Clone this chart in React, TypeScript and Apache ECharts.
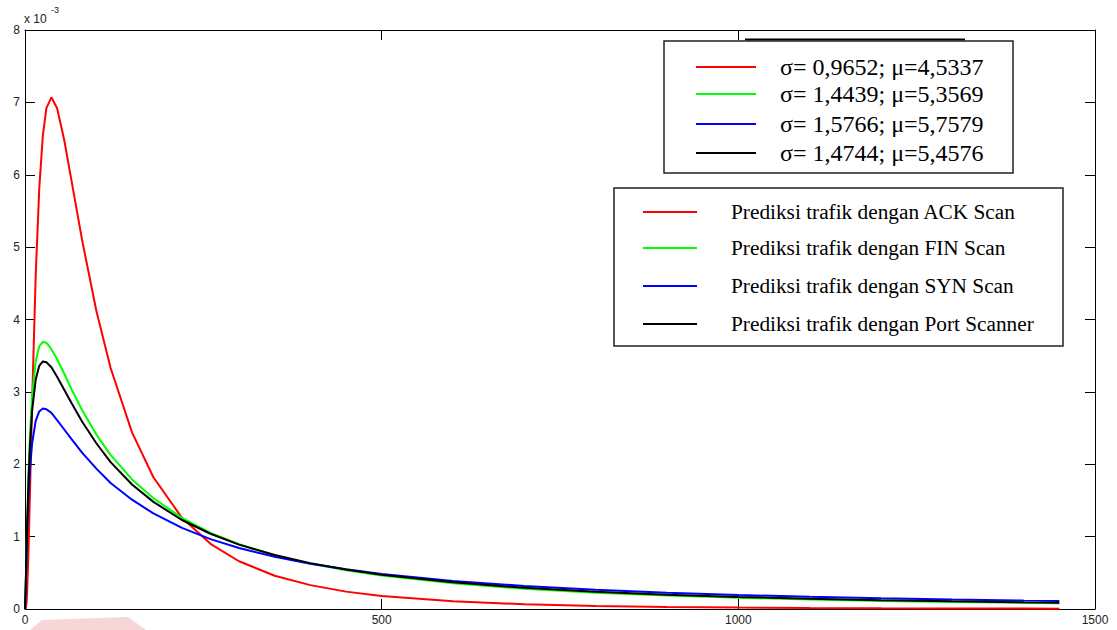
import React, { useEffect, useRef } from "react";
import * as echarts from "echarts";

// x positions (samples)
const xValues = [0, 1, 2, 3, 5, 7, 10, 15, 20, 25, 30, 37, 45, 55, 65, 80, 100, 120, 150, 180, 220, 260, 300, 350, 400, 450, 500, 600, 700, 800, 900, 1000, 1100, 1200, 1300, 1400, 1450];

// values in units of 10^-3
const ackScan = [0, 0.007, 0.075, 0.245, 0.84, 1.62, 2.86, 4.61, 5.81, 6.54, 6.92, 7.07, 6.92, 6.48, 5.93, 5.1, 4.12, 3.33, 2.44, 1.82, 1.26, 0.9, 0.66, 0.46, 0.33, 0.24, 0.18, 0.107, 0.066, 0.043, 0.029, 0.02, 0.014, 0.01, 0.008, 0.006, 0.005];
const finScan = [0, 0.28, 0.75, 1.19, 1.9, 2.42, 2.95, 3.42, 3.63, 3.69, 3.68, 3.59, 3.45, 3.25, 3.04, 2.75, 2.41, 2.13, 1.79, 1.53, 1.26, 1.05, 0.895, 0.743, 0.627, 0.536, 0.463, 0.355, 0.28, 0.226, 0.186, 0.155, 0.131, 0.112, 0.097, 0.084, 0.079];
const synScan = [0, 0.32, 0.73, 1.07, 1.59, 1.94, 2.29, 2.6, 2.73, 2.77, 2.76, 2.71, 2.61, 2.48, 2.35, 2.16, 1.94, 1.74, 1.51, 1.32, 1.12, 0.966, 0.843, 0.722, 0.626, 0.549, 0.485, 0.388, 0.319, 0.266, 0.226, 0.194, 0.168, 0.148, 0.13, 0.116, 0.11];
const portScanner = [0, 0.29, 0.73, 1.14, 1.8, 2.27, 2.74, 3.17, 3.36, 3.42, 3.41, 3.34, 3.21, 3.03, 2.85, 2.59, 2.29, 2.03, 1.72, 1.48, 1.23, 1.04, 0.889, 0.745, 0.634, 0.545, 0.474, 0.368, 0.294, 0.239, 0.198, 0.167, 0.142, 0.122, 0.106, 0.093, 0.087];

const seriesNames = [
  "Prediksi trafik dengan ACK Scan",
  "Prediksi trafik dengan FIN Scan",
  "Prediksi trafik dengan SYN Scan",
  "Prediksi trafik dengan Port Scanner",
];
const paramLabels = [
  "σ= 0,9652; μ=4,5337",
  "σ= 1,4439; μ=5,3569",
  "σ= 1,5766; μ=5,7579",
  "σ= 1,4744; μ=5,4576",
];
const colors = ["#ff0000", "#00ff00", "#0000ff", "#000000"];
const seriesValues = [ackScan, finScan, synScan, portScanner];

const xMin = 0, xMax = 1500, xInterval = 500;
const yMin = 0, yMax = 8, yInterval = 1;

export default function App() {
  const ref = useRef<HTMLDivElement>(null);
  useEffect(() => {
    if (!ref.current) return;
    const chart = echarts.init(ref.current, undefined, { renderer: "svg" });
    const sansFont = "'Liberation Sans', Arial, sans-serif";
    const serifFont = "'Liberation Serif', 'Times New Roman', serif";
    const axisCommon = {
      axisLine: { show: true, onZero: false, lineStyle: { color: "#000", width: 1 } },
      axisTick: { show: true, inside: true, length: 10, lineStyle: { color: "#000", width: 1 } },
      splitLine: { show: false },
    };
    const labelStyle = { fontSize: 12, margin: 5, color: "#222", fontFamily: sansFont, formatter: (v: number) => String(v) };
    const graphics: any[] = [];
    graphics.push({ type: "text", left: 24, top: 13, style: { text: "x 10", fontSize: 12, fontFamily: sansFont, fill: "#222" } });
    graphics.push({ type: "text", left: 51, top: 5, style: { text: "-3", fontSize: 9, fontFamily: sansFont, fill: "#222" } });
    // watermark fragment
    graphics.push({ type: "polygon", shape: { points: [[30, 630], [42, 620], [128, 617], [146, 630]] }, style: { fill: "#f6d6d6" }, z: -1 });
    // legend box 1
    graphics.push({ type: "line", shape: { x1: 745, y1: 39.5, x2: 965, y2: 39.5 }, style: { stroke: "#000", lineWidth: 2 } });
    graphics.push({ type: "rect", shape: { x: 664, y: 41, width: 349, height: 132 }, style: { fill: "#fff", stroke: "#222", lineWidth: 1.5 } });
    const rows1 = [67, 94, 124, 153];
    rows1.forEach((y, i) => {
      graphics.push({ type: "line", shape: { x1: 696, y1: y, x2: 756, y2: y }, style: { stroke: colors[i], lineWidth: 2 } });
      graphics.push({ type: "text", x: 780, y, style: { text: paramLabels[i], fontSize: 24, fontFamily: serifFont, fill: "#000", verticalAlign: "middle", align: "left" } });
    });
    // legend box 2
    graphics.push({ type: "rect", shape: { x: 614, y: 188, width: 449, height: 158 }, style: { fill: "#fff", stroke: "#222", lineWidth: 1.5 } });
    const rows2 = [212, 248, 286, 324];
    rows2.forEach((y, i) => {
      graphics.push({ type: "line", shape: { x1: 643, y1: y, x2: 697, y2: y }, style: { stroke: colors[i], lineWidth: 2 } });
      graphics.push({ type: "text", x: 731, y, style: { text: seriesNames[i], fontSize: 21.3, fontFamily: serifFont, fill: "#000", verticalAlign: "middle", align: "left" } });
    });
    chart.setOption({
      animation: false,
      backgroundColor: "#fff",
      grid: { left: 25, right: 22, top: 30, bottom: 21, containLabel: false },
      xAxis: [
        { type: "value", min: xMin, max: xMax, interval: xInterval, position: "bottom", ...axisCommon, axisLabel: labelStyle },
        { type: "value", min: xMin, max: xMax, interval: xInterval, position: "top", ...axisCommon, axisLabel: { show: false } },
      ],
      yAxis: [
        { type: "value", min: yMin, max: yMax, interval: yInterval, position: "left", ...axisCommon, axisLabel: labelStyle },
        { type: "value", min: yMin, max: yMax, interval: yInterval, position: "right", ...axisCommon, axisLabel: { show: false } },
      ],
      series: seriesValues.map((vals, i) => ({
        name: seriesNames[i],
        type: "line",
        xAxisIndex: 0,
        yAxisIndex: 0,
        showSymbol: false,
        smooth: false,
        lineStyle: { color: colors[i], width: 2 },
        itemStyle: { color: colors[i] },
        data: xValues.map((x, j) => [x, vals[j]]),
        z: 2 + i,
      })),
      graphic: graphics,
    });
    return () => chart.dispose();
  }, []);
  return <div ref={ref} style={{ position: "fixed", left: 0, top: 0, width: 1117, height: 630 }} />;
}
